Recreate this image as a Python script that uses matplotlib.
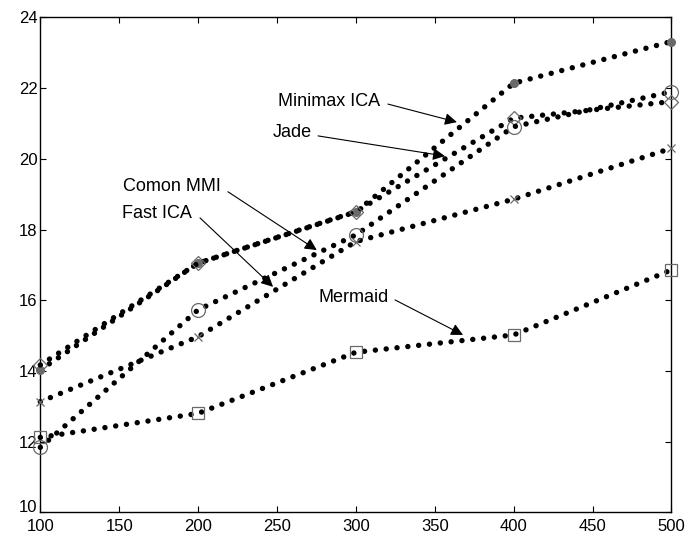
import matplotlib
matplotlib.use("Agg")
import matplotlib.pyplot as plt

plt.rcParams['font.family'] = ['Liberation Sans', 'DejaVu Sans']

# data
sizes = [100, 200, 300, 400, 500]
minimax_ica = [14.03, 17.05, 18.50, 22.14, 23.32]
jade = [14.17, 17.05, 18.51, 21.15, 21.62]
comon_mmi = [11.84, 15.73, 17.85, 20.91, 21.90]
fast_ica = [13.13, 14.97, 17.66, 18.86, 20.30]
mermaid = [12.12, 12.80, 14.53, 15.02, 16.86]

x_ticks = [100, 150, 200, 250, 300, 350, 400, 450, 500]
y_ticks = [10, 12, 14, 16, 18, 20, 22, 24]

grey = '#6a6a6a'
dots = dict(color='k', lw=3.9, linestyle=(0, (0.01, 2.0)), dash_capstyle='round',
            clip_on=False, zorder=3)

fig = plt.figure(figsize=(6.88, 5.41), dpi=100)
ax = fig.add_axes([0.0586, 0.0529, 0.9174, 0.9148])

ax.plot(sizes, minimax_ica, marker='o', ms=5.5, mfc=grey, mec=grey, **dots)
ax.plot(sizes, jade, marker='D', ms=7, mfc='none', mec=grey, mew=0.9, **dots)
ax.plot(sizes, comon_mmi, marker='o', ms=10, mfc='none', mec=grey, mew=0.9, **dots)
ax.plot(sizes, fast_ica, marker='x', ms=6, mec=grey, mew=0.9, **dots)
ax.plot(sizes, mermaid, marker='s', ms=9, mfc='none', mec=grey, mew=0.9, **dots)

# labels with arrows: (text, text pos, arrow tail, arrow head)
notes = [
    ('Minimax ICA', (250.6, 21.61), (320.3, 21.55), (364.0, 21.04)),
    ('Jade', (247.5, 20.76), (276.0, 20.65), (356.4, 20.08)),
    ('Comon MMI', (152.2, 19.21), (218.9, 19.07), (275.2, 17.42)),
    ('Fast ICA', (151.6, 18.46), (201.2, 18.33), (247.5, 16.38)),
    ('Mermaid', (276.0, 16.09), (324.8, 16.01), (367.9, 15.02)),
]
for label, txt, tail, head in notes:
    ax.text(txt[0], txt[1], label, fontsize=13, ha='left', va='center')
    ax.annotate('', xy=head, xytext=tail,
                arrowprops=dict(arrowstyle='-|>', color='k', lw=0.8,
                                mutation_scale=18, shrinkA=0, shrinkB=0))

ax.set_xlim(100, 500)
ax.set_ylim(10, 24)
ax.set_xticks(x_ticks)
ax.set_yticks(y_ticks)
ax.tick_params(direction='in', top=True, right=True, length=4, width=0.8,
               labelsize=12)
ax.tick_params(axis='x', pad=5)
ax.tick_params(axis='y', pad=2)
ax.get_yticklabels()[0].set_va('baseline')
for s in ax.spines.values():
    s.set_linewidth(1.0)

fig.savefig('out.png', dpi=100)
